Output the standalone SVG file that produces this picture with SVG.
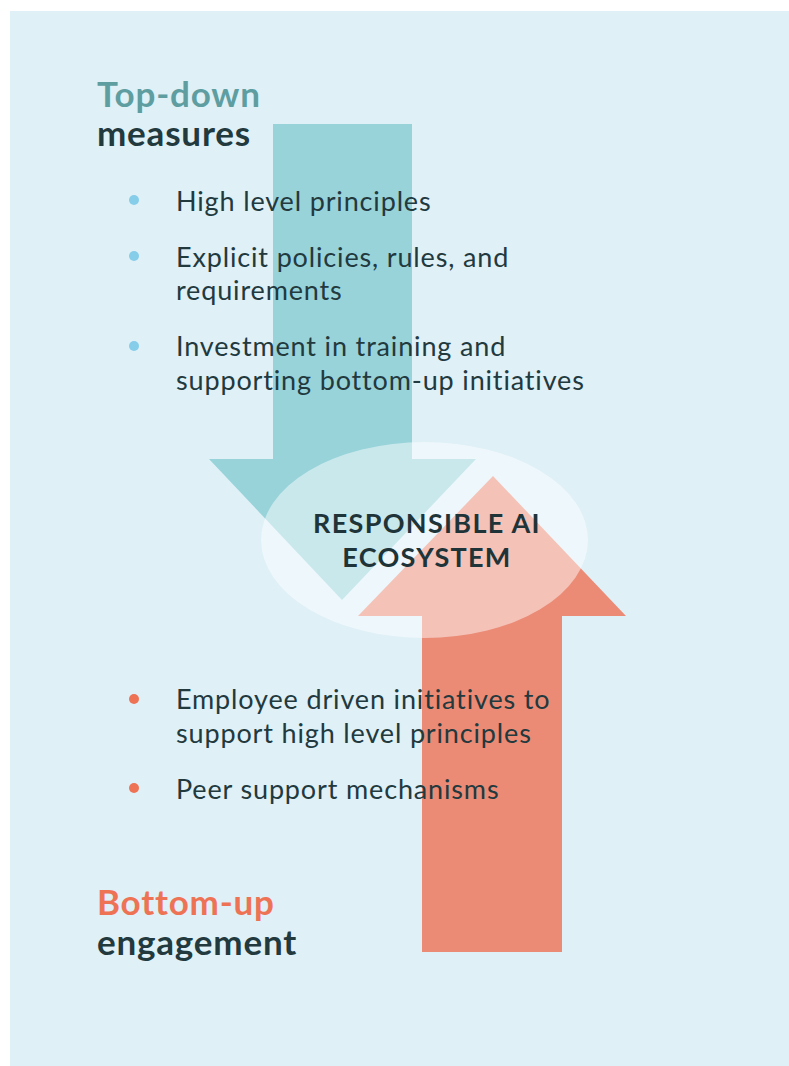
<svg xmlns="http://www.w3.org/2000/svg" width="789" height="1066" viewBox="0 0 789 1066">
  <style>
    .head { font-family: Lato, "Noto Sans", "Liberation Sans", sans-serif; font-size: 35px; font-weight: 700; letter-spacing: 0.8px; }
    .item { font-family: Lato, "Noto Sans", "Liberation Sans", sans-serif; font-size: 27px; letter-spacing: 0.85px; fill: #22393E; }
    .core { font-family: Lato, "Noto Sans", "Liberation Sans", sans-serif; font-size: 27px; font-weight: 700; letter-spacing: 1.3px; fill: #1F3438; text-anchor: middle; }
    .dark { fill: #22393E; }
  </style>
  <rect width="789" height="1066" fill="#FFFFFF"/>
  <rect x="10" y="11" width="779" height="1055" fill="#DFF0F7"/>

  <g id="arrows">
    <!-- downward arrow: top-down measures -->
    <polygon id="arrow-down" fill="#98D3DA" points="273,124 412,124 412,459 476,459 342,600 209,459 273,459"/>
    <!-- upward arrow: bottom-up engagement -->
    <polygon id="arrow-up" fill="#EB8B76" points="422,952 562,952 562,616 626,616 493,476 358,616 422,616"/>
  </g>

  <g id="ecosystem">
    <ellipse cx="424.5" cy="540" rx="163.5" ry="98" fill="#FFFFFF" fill-opacity="0.48"/>
    <text class="core" x="427" y="533">RESPONSIBLE AI</text>
    <text class="core" x="427" y="567">ECOSYSTEM</text>
  </g>

  <g id="top-down">
    <text class="head" x="97" y="107" fill="#5E9EA1">Top-down</text>
    <text class="head dark" x="97" y="146">measures</text>
    <g fill="#86CDEA">
      <circle cx="134" cy="200" r="5"/>
      <circle cx="134" cy="256" r="5"/>
      <circle cx="134" cy="346" r="5"/>
    </g>
    <text class="item" x="176" y="211">High level principles</text>
    <text class="item" x="176" y="267">Explicit policies, rules, and</text>
    <text class="item" x="176" y="300">requirements</text>
    <text class="item" x="176" y="356">Investment in training and</text>
    <text class="item" x="176" y="390">supporting bottom-up initiatives</text>
  </g>

  <g id="bottom-up">
    <g fill="#EE7355">
      <circle cx="134" cy="699" r="5"/>
      <circle cx="134" cy="788" r="5"/>
    </g>
    <text class="item" x="176" y="709">Employee driven initiatives to</text>
    <text class="item" x="176" y="743">support high level principles</text>
    <text class="item" x="176" y="799">Peer support mechanisms</text>
    <text class="head" x="97" y="915" fill="#EE7355">Bottom-up</text>
    <text class="head dark" x="97" y="955">engagement</text>
  </g>
</svg>
